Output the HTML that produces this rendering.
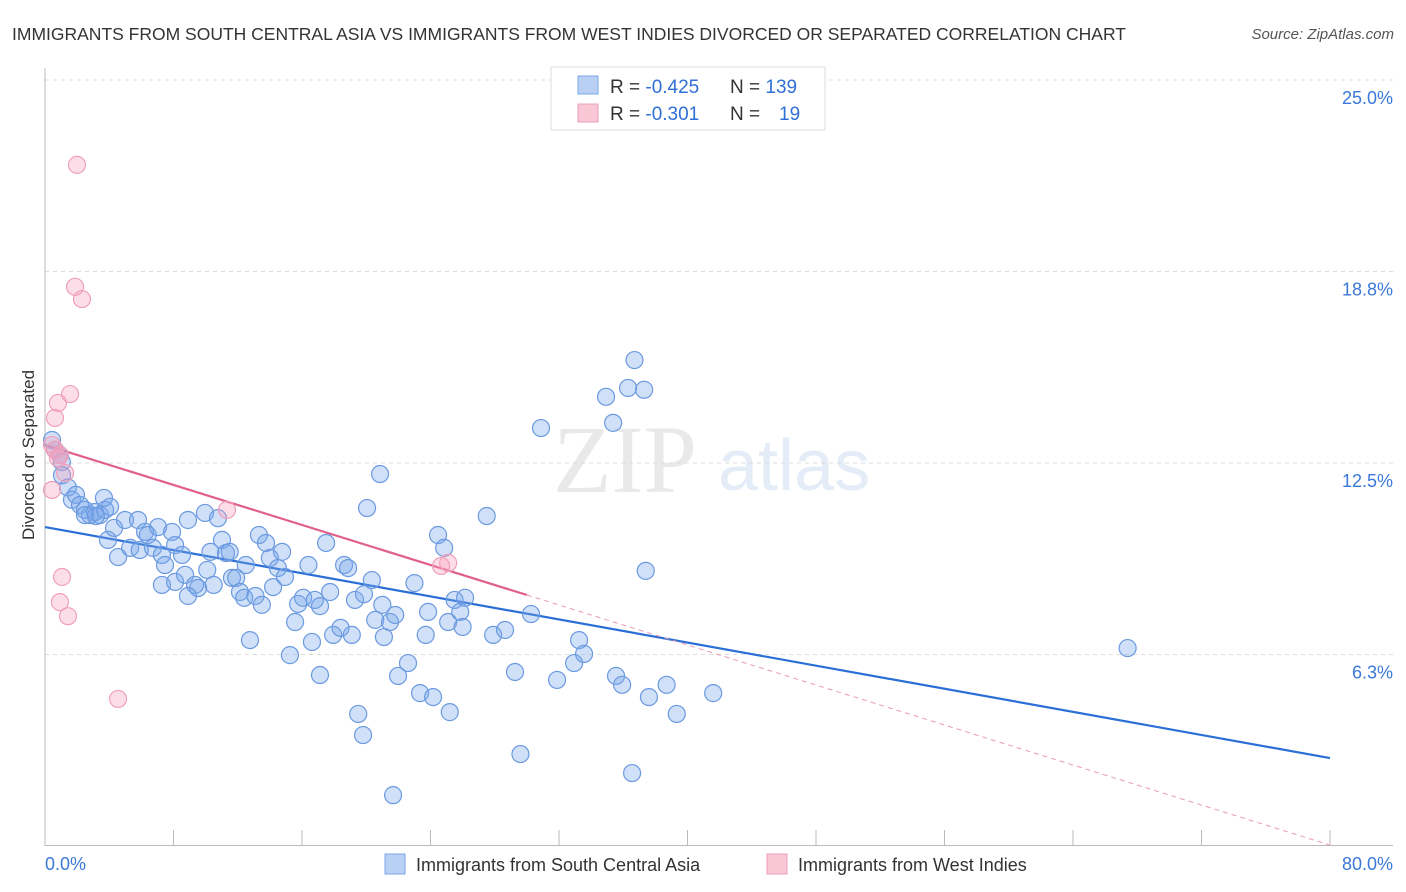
<!DOCTYPE html>
<html><head><meta charset="utf-8"><style>
body{margin:0;background:#fff;font-family:"Liberation Sans",sans-serif;}
svg{display:block}
</style></head><body>
<svg id="chart" width="1406" height="892" xmlns="http://www.w3.org/2000/svg">
<text x="12" y="40" font-size="17.5" fill="#333">IMMIGRANTS FROM SOUTH CENTRAL ASIA VS IMMIGRANTS FROM WEST INDIES DIVORCED OR SEPARATED CORRELATION CHART</text>
<text x="1394" y="39" font-size="15" fill="#555" font-style="italic" text-anchor="end">Source: ZipAtlas.com</text>
<g opacity="0.18">
<text x="553" y="492" font-size="96" font-family="Liberation Serif,serif" fill="#888">ZIP</text>
<text x="718" y="490" font-size="72" fill="#6a9ad8">atlas</text>
</g>
<g id="grid"></g>
<g id="axes"></g>
<g id="trends"></g>
<g id="pts"></g>
<g>
<rect x="551" y="67" width="274" height="63" fill="#fff" stroke="#ddd"/>
<rect x="578" y="76" width="20" height="18" fill="#b8d0f4" stroke="#7aa6e6"/>
<text x="610" y="93" font-size="19" fill="#333">R = <tspan fill="#2f6fd6">-0.425</tspan><tspan x="730">N = </tspan><tspan fill="#2f6fd6">139</tspan></text>
<rect x="578" y="104" width="20" height="18" fill="#f8c6d4" stroke="#eea0b8"/>
<text x="610" y="120" font-size="19" fill="#333">R = <tspan fill="#2f6fd6"> -0.301</tspan><tspan x="730">N = </tspan><tspan x="779" fill="#2f6fd6">19</tspan></text>
</g>
<text transform="translate(34,455) rotate(-90)" font-size="17" fill="#333" text-anchor="middle">Divorced or Separated</text>
<text x="45" y="870" font-size="18" fill="#3b78d8">0.0%</text>
<text x="1393" y="870" font-size="18" fill="#3b78d8" text-anchor="end">80.0%</text>
<g>
<rect x="385" y="854" width="20" height="20" fill="#b8d0f4" stroke="#7aa6e6"/>
<text x="416" y="871" font-size="18" fill="#333">Immigrants from South Central Asia</text>
<rect x="767" y="854" width="20" height="20" fill="#f8c6d4" stroke="#eea0b8"/>
<text x="798" y="871" font-size="18" fill="#333">Immigrants from West Indies</text>
</g>
</svg>
<script>
const yTicks=[6.25,12.5,18.75,25];
const yTickLabels=["6.3%","12.5%","18.8%","25.0%"];
const xTicks=[0,8,16,24,32,40,48,56,64,72,80];
const blueX=[0.44,0.62,0.93,1.05,1.06,1.43,1.68,1.93,2.18,2.49,2.8,3.11,3.42,3.74,4.05,2.49,3.17,3.92,4.3,4.55,4.98,5.3,5.79,6.23,6.4,6.72,7.04,7.28,7.47,7.91,8.1,7.28,8.1,8.53,8.72,8.9,9.34,9.53,9.96,10.1,10.3,10.5,10.77,11.02,11.27,11.5,11.64,11.9,12.14,12.4,12.5,12.76,13.1,13.32,13.5,13.76,14.0,14.2,14.5,14.76,14.94,15.25,15.57,15.76,16.07,16.4,16.62,16.8,17.12,17.12,17.5,17.75,17.94,18.4,18.62,18.87,19.1,19.3,19.5,19.8,20.05,19.86,20.35,20.56,20.86,21.0,21.1,21.48,21.8,21.98,21.67,22.6,23.0,23.35,23.7,23.85,24.16,24.47,24.85,25.1,25.2,25.5,25.85,26.0,26.15,27.5,27.9,28.64,29.26,29.6,30.26,30.88,31.88,32.94,33.25,33.56,34.93,35.37,35.55,35.93,36.3,36.55,36.7,37.3,37.4,37.6,38.7,39.33,41.6,67.4,3.67,5.9,8.9];
const blueY=[13.25,12.93,12.76,12.53,12.1,11.7,11.3,11.46,11.13,10.97,10.8,10.9,10.8,10.97,11.07,10.8,10.77,9.99,10.38,9.43,10.64,9.73,10.64,10.25,10.15,9.73,10.41,9.5,9.17,10.25,9.82,8.52,8.62,9.5,8.85,10.64,8.52,8.42,10.87,9.01,9.6,8.52,10.7,9.99,9.56,9.6,8.75,8.75,8.29,8.1,9.17,6.72,8.16,10.15,7.87,9.89,9.4,8.45,9.07,9.6,8.78,6.23,7.31,7.9,8.1,9.17,6.66,8.03,7.83,5.58,9.89,8.29,6.89,7.12,9.17,9.07,6.89,8.03,4.31,3.62,11.03,8.22,8.68,7.38,12.14,7.87,6.82,7.31,7.54,5.55,1.66,5.97,8.58,4.99,6.89,7.64,4.86,10.15,9.73,7.31,4.37,8.03,7.64,7.15,8.1,10.77,6.89,7.05,5.68,3.0,7.57,13.64,5.42,5.97,6.72,6.27,14.66,13.81,5.55,5.26,14.95,2.38,15.86,14.89,8.98,4.86,5.26,4.31,4.99,6.46,11.36,9.66,8.16];
const pinkX=[1.99,1.87,2.3,1.56,0.81,0.62,0.44,0.62,0.81,1.25,0.44,11.33,25.1,24.66,1.06,0.93,1.43,4.55,0.93];
const pinkY=[22.23,18.25,17.85,14.75,14.46,13.97,13.09,12.93,12.66,12.17,11.62,10.97,9.24,9.14,8.78,7.96,7.5,4.8,12.76];
const blueTrend=[10.41,2.87];   // y at x=0 and x=80
const pinkTrend=[13.09,0.03];
const pinkSolidEnd=30.0;

const NS="http://www.w3.org/2000/svg";
function xs(v){return 45+v/80*1285;}
function ys(v){return 846-v/6.25*191.5;}
function mk(tag,attrs,parent){const e=document.createElementNS(NS,tag);for(const k in attrs)e.setAttribute(k,attrs[k]);parent.appendChild(e);return e;}
const grid=document.getElementById('grid'),axes=document.getElementById('axes'),tr=document.getElementById('trends'),pts=document.getElementById('pts');
yTicks.forEach((t,i)=>{
 const l=mk('line',{x1:45,x2:1393,y1:ys(t),y2:ys(t),stroke:'#ddd','stroke-dasharray':'4,4'},grid);
 
 
 const tx=mk('text',{x:1393,y:ys(t)+24,'font-size':18,fill:'#3b78d8','text-anchor':'end'},grid);
 tx.textContent=yTickLabels[i];
 
 
});
const ya=mk('line',{x1:45,x2:45,y1:68,y2:846,stroke:'#bbb'},axes);


const xa=mk('line',{x1:45,x2:1393,y1:845.5,y2:845.5,stroke:'#bbb'},axes);


xTicks.forEach(t=>{
 const l=mk('line',{x1:xs(t),x2:xs(t),y1:830,y2:846,stroke:'#bbb'},axes);
 
 
});
function drawPts(X,Y,fill,stroke,name){
 X.forEach((x,i)=>{
  const c=mk('circle',{cx:xs(x),cy:ys(Y[i]),r:8.5,fill:fill,stroke:stroke,'stroke-width':1.2},pts);
  
  
 });
}
drawPts(blueX,blueY,'rgba(120,165,235,0.35)','#6b9ae0','point-south-central-asia');
drawPts(pinkX,pinkY,'rgba(245,160,190,0.35)','#f0a0bb','point-west-indies');
function ty(tv,x){return tv[0]+(tv[1]-tv[0])*x/80;}
const bl=mk('line',{x1:xs(0),y1:ys(ty(blueTrend,0)),x2:xs(80),y2:ys(ty(blueTrend,80)),stroke:'#2a6fd6','stroke-width':2.2},tr);


const pl=mk('line',{x1:xs(0),y1:ys(ty(pinkTrend,0)),x2:xs(pinkSolidEnd),y2:ys(ty(pinkTrend,pinkSolidEnd)),stroke:'#e0608a','stroke-width':2.2},tr);


const pd=mk('line',{x1:xs(pinkSolidEnd),y1:ys(ty(pinkTrend,pinkSolidEnd)),x2:xs(80),y2:ys(ty(pinkTrend,80)),stroke:'#e89ab4','stroke-width':1,'stroke-dasharray':'5,4'},tr);


</script>
</body></html>
